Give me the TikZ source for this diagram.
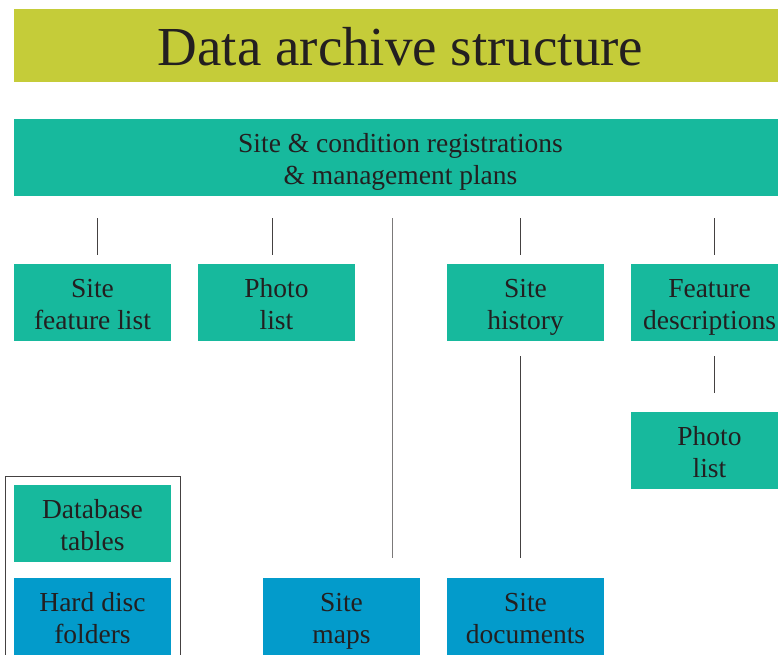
\documentclass[tikz,border=0pt]{standalone}
\usepackage{fontspec}
\setmainfont{Liberation Serif}
\definecolor{teal1}{HTML}{17B99D}
\definecolor{blue1}{HTML}{039BCB}
\definecolor{olive1}{HTML}{C5CC39}
\definecolor{ink}{HTML}{231F20}
\newcommand\topln{\rule{0pt}{33pt}}
\newcommand\botln{\rule[-12pt]{0pt}{12pt}}
\tikzset{
  box/.style={inner sep=0pt, minimum width=157pt, minimum height=77pt, align=center,
    text=ink, font=\fontsize{27.5}{32}\selectfont},
  tealbox/.style={box, fill=teal1},
  bluebox/.style={box, fill=blue1},
  link/.style={draw=ink!85, line width=0.9pt},
}
\begin{document}
\begin{tikzpicture}[x=1pt,y=-1pt]
\useasboundingbox (0,0) rectangle (778,655);
\node[fill=olive1, minimum width=773pt, minimum height=73pt, inner sep=0pt,
  text height=57pt, text depth=16pt,
  text=ink, font=\fontsize{55}{60}\selectfont] (title) at (400.5,45.5) {Data archive structure};
\node[tealbox, minimum width=773pt] (top) at (400.5,157.5) {\topln Site \& condition registrations\\\& management plans\botln};
\node[tealbox] (sfl) at (92.5,302.5) {\topln Site\\feature list\botln};
\node[tealbox] (pl1) at (276.5,302.5) {\topln Photo\\list\botln};
\node[tealbox] (sh) at (525.5,302.5) {\topln Site\\history\botln};
\node[tealbox] (fd) at (709.5,302.5) {\topln Feature\\descriptions\botln};
\node[tealbox] (pl2) at (709.5,450.5) {\topln Photo\\list\botln};
\draw[draw=ink!85, line width=1pt] (5,476) rectangle (180,670);
\node[tealbox] (db) at (92.5,523.5) {\topln Database\\tables\botln};
\node[bluebox] (hd) at (92.5,616.5) {\topln Hard disc\\folders\botln};
\node[bluebox] (sm) at (341.5,616.5) {\topln Site\\maps\botln};
\node[bluebox] (sd) at (525.5,616.5) {\topln Site\\documents\botln};
% connector ends
\coordinate (a1) at (97,218); \coordinate (a2) at (97,255);
\coordinate (b1) at (272,218); \coordinate (b2) at (272,255);
\coordinate (c1) at (392,218); \coordinate (c2) at (392,558);
\coordinate (d1) at (520,218); \coordinate (d2) at (520,255);
\coordinate (e1) at (714,218); \coordinate (e2) at (714,255);
\coordinate (f1) at (520,356); \coordinate (f2) at (520,558);
\coordinate (g1) at (714,356); \coordinate (g2) at (714,393);
\draw[link] (a1) -- (a2);
\draw[link] (b1) -- (b2);
\draw[link, draw=ink!60] (c1) -- (c2);
\draw[link] (d1) -- (d2);
\draw[link] (e1) -- (e2);
\draw[link] (f1) -- (f2);
\draw[link] (g1) -- (g2);
\end{tikzpicture}
\end{document}
